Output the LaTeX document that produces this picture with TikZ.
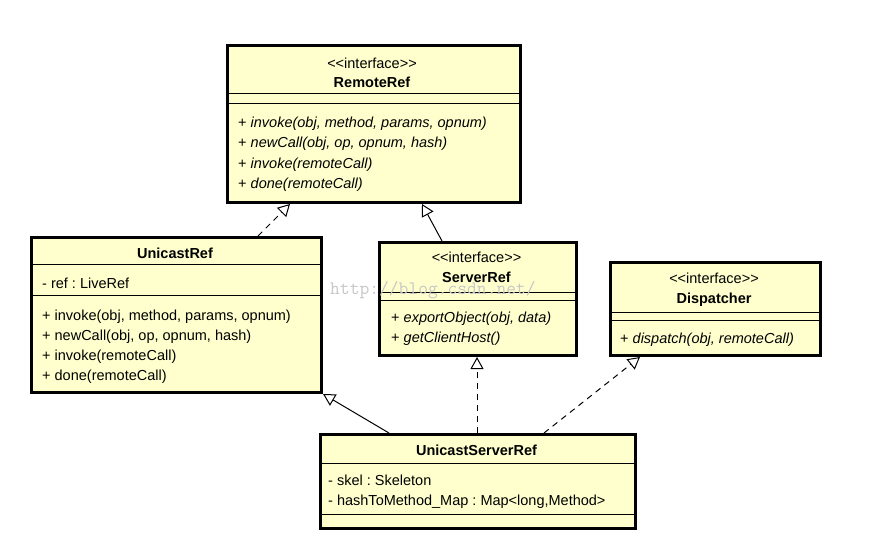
\documentclass[tikz,border=0pt]{standalone}
\usepackage{fontspec}
\setmainfont{Liberation Sans}
\usetikzlibrary{arrows.meta,calc}
\definecolor{umlfill}{RGB}{255,255,206}
\frenchspacing

\begin{document}
\begin{tikzpicture}[x=1pt,y=-1pt,
  cls/.style={draw,line width=3pt,fill=umlfill,anchor=north west,inner sep=0pt},
  sep/.style={line width=1pt},
  txt/.style={anchor=base west,inner sep=0pt,font=\fontsize{14.5}{17}\selectfont},
  ster/.style={anchor=base,inner sep=0pt,font=\fontsize{14.5}{17}\selectfont},
  ttl/.style={ster,font=\fontsize{14.5}{17}\selectfont\bfseries},
  inherit/.style={line width=1pt,-{Triangle[length=12pt,width=13pt,fill=white]}},
  realize/.style={inherit,dash pattern=on 6pt off 5pt}]
  \useasboundingbox[fill=white] (0,0) rectangle (888,557);

  % RemoteRef
  \node[cls,minimum width=293pt,minimum height=157pt] (remote) at (226,44) {};
  \draw[sep] (remote.west |- 0,93) -- (remote.east |- 0,93);
  \draw[sep] (remote.west |- 0,103) -- (remote.east |- 0,103);
  \node[ster] (remote-st) at (372,68) {{<}{<}interface{>}{>}};
  \node[ttl] (remote-name) at (372,87) {RemoteRef};
  \foreach \i/\y/\op in {
     1/127/{invoke(obj, method, params, opnum)},
     2/147/{newCall(obj, op, opnum, hash)},
     3/168/{invoke(remoteCall)},
     4/188/{done(remoteCall)}}
    \node[txt] (remote-m\i) at (238,\y) {+ \textit{\op}};

  % UnicastRef
  \node[cls,minimum width=290pt,minimum height=155pt] (uref) at (30,236) {};
  \draw[sep] (uref.west |- 0,264) -- (uref.east |- 0,264);
  \draw[sep] (uref.west |- 0,295) -- (uref.east |- 0,295);
  \node[ttl] (uref-name) at (175,258) {UnicastRef};
  \node[txt] (uref-a1) at (42,288) {- ref : LiveRef};
  \foreach \i/\y/\op in {
     1/320/{invoke(obj, method, params, opnum)},
     2/340/{newCall(obj, op, opnum, hash)},
     3/360/{invoke(remoteCall)},
     4/380/{done(remoteCall)}}
    \node[txt] (uref-m\i) at (42,\y) {+ \op};

  % ServerRef
  \node[cls,minimum width=197pt,minimum height=113pt] (sref) at (378,241) {};
  \draw[sep] (sref.west |- 0,292) -- (sref.east |- 0,292);
  \draw[sep] (sref.west |- 0,300) -- (sref.east |- 0,300);
  \node[ster] (sref-st) at (476.5,262) {{<}{<}interface{>}{>}};
  \node[ttl] (sref-name) at (476.5,282) {ServerRef};
  \node[txt] (sref-m1) at (391,322) {+ \textit{exportObject(obj, data)}};
  \node[txt] (sref-m2) at (391,342) {+ \textit{getClientHost()}};

  % Dispatcher
  \node[cls,minimum width=210pt,minimum height=93pt] (disp) at (609,261) {};
  \draw[sep] (disp.west |- 0,312) -- (disp.east |- 0,312);
  \draw[sep] (disp.west |- 0,320) -- (disp.east |- 0,320);
  \node[ster] (disp-st) at (714,283) {{<}{<}interface{>}{>}};
  \node[ttl] (disp-name) at (714,303) {Dispatcher};
  \node[txt] (disp-m1) at (620,343) {+ \textit{dispatch(obj, remoteCall)}};

  % UnicastServerRef
  \node[cls,minimum width=315pt,minimum height=94pt] (usref) at (319,433) {};
  \draw[sep] (usref.west |- 0,463) -- (usref.east |- 0,463);
  \draw[sep] (usref.west |- 0,514) -- (usref.east |- 0,514);
  \node[ttl] (usref-name) at (476.5,455) {UnicastServerRef};
  \node[txt] (usref-a1) at (328,485) {- skel : Skeleton};
  \node[txt] (usref-a2) at (328,505) {- hashToMethod\_Map : Map{<}long,Method{>}};

  % generalization / realization
  \draw[realize] (uref.north -| 258,0) -- (remote.south -| 290,0);
  \draw[inherit] (sref.north -| 442,0) -- (remote.south -| 422,0);
  \draw[inherit] (usref.north -| 389,0) -- (uref.south east);
  \draw[realize] (usref.north -| 477,0) -- (sref.south -| 477,0);
  \draw[realize] (usref.north -| 544,0) -- (disp.south -| 640,0);

  % watermark
  \node[anchor=base west,inner sep=0pt,text=black!22,font=\ttfamily\fontsize{19}{19}\selectfont]
    (wm) at (330,294) {http://blog.csdn.net/};
\end{tikzpicture}
\end{document}
